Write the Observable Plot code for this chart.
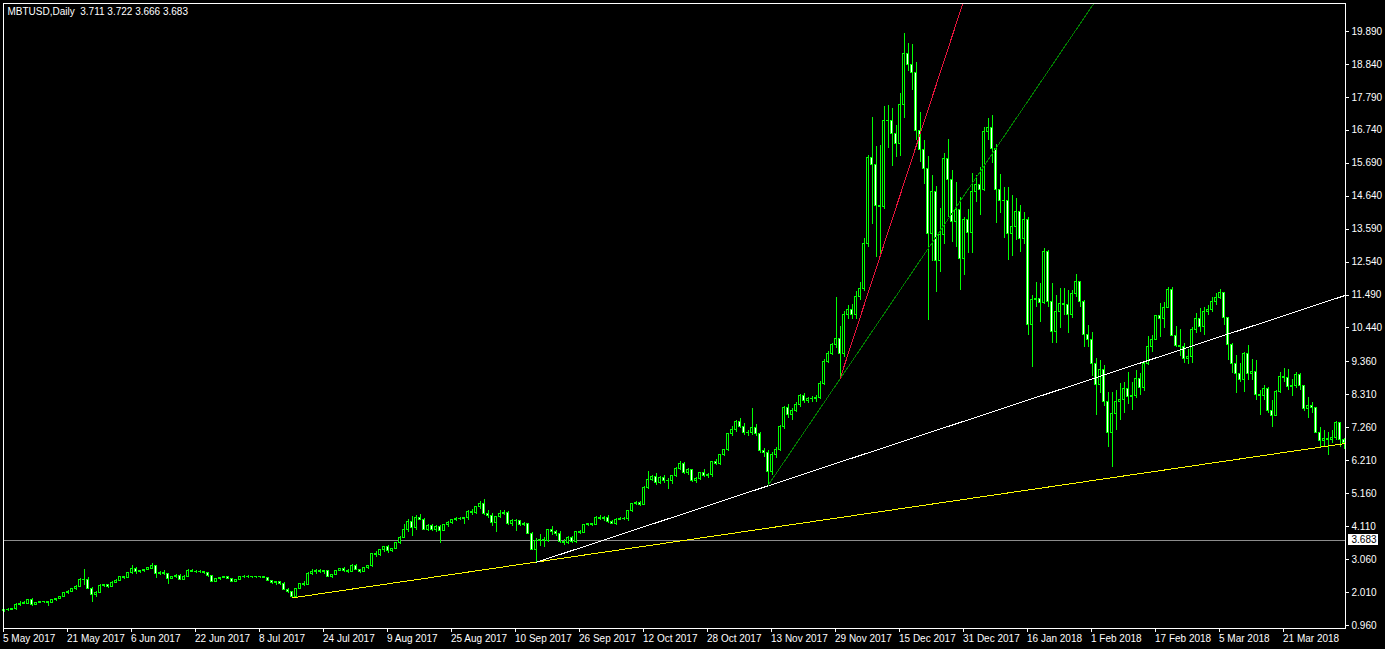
<!DOCTYPE html>
<html>
<head>
<meta charset="utf-8">
<script src="https://cdn.jsdelivr.net/npm/d3@7"></script>
<script src="https://cdn.jsdelivr.net/npm/@observablehq/plot@0.6"></script>
<style>
  html, body { margin: 0; padding: 0; background: #000; }
  #chart { width: 1385px; height: 649px; overflow: hidden; }
</style>
</head>
<body>
<div id="chart"></div>
<script>
// ---------------- DATA ----------------
const symbol = "MBTUSD";
const timeframe = "Daily";
const headerValues = [3.711, 3.722, 3.666, 3.683];
const bidPrice = 3.683;
const firstDate = "2017-05-05"; // one candle per calendar day from here

const opens = [
  1.42,1.44,1.46,1.47,1.62,1.66,1.66,1.78,1.62,1.68,
  1.72,1.70,1.68,1.76,1.81,1.86,1.99,2.02,2.12,2.20,
  2.42,2.40,2.13,1.92,2.01,2.23,2.24,2.19,2.32,2.39,
  2.49,2.47,2.62,2.77,2.66,2.69,2.73,2.77,2.84,2.61,
  2.64,2.60,2.45,2.50,2.55,2.42,2.52,2.71,2.68,2.66,
  2.67,2.62,2.53,2.36,2.43,2.48,2.50,2.45,2.36,2.40,
  2.52,2.50,2.51,2.50,2.49,2.51,2.48,2.37,2.30,2.33,
  2.27,2.10,2.03,1.87,2.13,2.29,2.25,2.61,2.65,2.70,
  2.66,2.69,2.52,2.57,2.70,2.75,2.70,2.68,2.87,2.73,
  2.68,2.80,2.84,3.24,3.20,3.35,3.45,3.33,3.40,3.58,
  3.75,3.99,4.25,4.07,4.39,4.33,4.01,4.13,3.99,4.11,
  3.97,4.15,4.22,4.31,4.36,4.35,4.37,4.59,4.55,4.73,
  4.84,4.52,4.45,4.22,4.41,4.52,4.56,4.20,4.28,4.30,
  4.15,4.18,3.88,3.37,3.65,3.68,3.66,3.99,3.93,3.86,
  3.62,3.58,3.75,3.62,3.93,3.92,4.15,4.18,4.17,4.39,
  4.35,4.40,4.25,4.20,4.33,4.36,4.35,4.60,4.83,4.86,
  4.80,5.35,5.60,5.69,5.50,5.66,5.58,5.56,5.71,5.95,
  6.09,5.82,5.90,5.56,5.62,5.81,5.71,5.74,6.16,6.10,
  6.38,6.54,7.05,7.20,7.44,7.30,7.09,7.10,7.25,7.05,
  6.52,6.45,5.85,6.38,6.56,7.28,7.90,7.68,7.81,8.00,
  8.26,8.11,8.18,8.17,8.22,8.66,9.37,9.62,9.90,10.10,
  9.62,10.84,11.02,10.84,11.44,11.69,13.12,15.87,15.62,14.34,
  14.30,17.05,17.02,16.63,16.31,17.53,19.18,18.83,18.57,16.73,
  16.12,15.51,13.44,14.77,12.59,13.40,15.83,15.14,13.81,14.19,
  12.65,13.89,13.46,14.77,15.01,14.85,16.70,16.80,16.15,14.85,
  14.50,14.48,13.42,13.65,14.13,13.28,13.87,10.52,11.32,11.37,
  11.23,12.86,11.26,10.31,10.94,11.19,11.17,10.84,11.53,11.90,
  11.26,10.22,10.06,9.30,8.61,9.09,8.08,7.10,7.71,8.08,
  8.15,8.50,8.24,8.27,8.82,8.53,9.28,9.85,10.06,10.81,
  10.73,11.08,11.66,10.20,9.86,9.83,9.46,9.53,10.36,10.73,
  10.47,10.94,11.02,11.26,11.40,11.55,10.76,9.90,9.30,8.96,
  8.79,9.60,8.98,9.03,8.29,8.26,8.50,7.81,7.65,8.40,
  8.87,8.85,8.55,8.58,8.93,8.58,7.86,7.97,7.90,7.10,
  6.83,6.91,6.86,6.92,7.41,6.86
];
const highs = [
  1.48,1.49,1.48,1.66,1.74,1.72,1.80,1.81,1.70,1.74,
  1.74,1.72,1.78,1.83,1.88,2.00,2.06,2.14,2.23,2.45,
  2.73,2.48,2.16,2.04,2.26,2.27,2.27,2.35,2.42,2.52,
  2.52,2.64,2.87,2.80,2.72,2.76,2.80,2.93,2.88,2.68,
  2.70,2.62,2.53,2.58,2.58,2.55,2.74,2.75,2.72,2.70,
  2.69,2.64,2.55,2.46,2.50,2.53,2.52,2.47,2.44,2.53,
  2.55,2.54,2.53,2.53,2.53,2.53,2.50,2.40,2.36,2.36,
  2.32,2.15,2.05,2.15,2.30,2.36,2.64,2.73,2.74,2.73,
  2.72,2.72,2.60,2.72,2.78,2.80,2.74,2.90,2.90,2.76,
  2.82,2.88,3.26,3.32,3.38,3.48,3.50,3.42,3.60,3.78,
  4.18,4.35,4.43,4.45,4.50,4.38,4.18,4.17,4.14,4.14,
  4.18,4.26,4.33,4.40,4.39,4.40,4.62,4.65,4.76,4.90,
  4.96,4.62,4.52,4.44,4.62,4.62,4.60,4.33,4.34,4.32,
  4.25,4.22,3.92,3.72,3.86,3.75,4.02,4.11,3.98,3.97,
  3.70,3.80,3.80,3.96,4.00,4.17,4.22,4.22,4.42,4.45,
  4.44,4.47,4.30,4.36,4.40,4.41,4.63,4.86,4.90,4.90,
  5.40,5.88,5.74,5.80,5.70,5.74,5.63,5.74,5.98,6.17,
  6.14,5.95,5.94,5.66,5.85,5.92,5.80,6.20,6.25,6.42,
  6.58,7.08,7.30,7.50,7.55,7.40,7.18,7.87,7.35,7.12,
  6.60,6.55,6.48,6.62,7.32,7.95,8.00,7.88,8.08,8.32,
  8.36,8.22,8.25,8.30,8.72,9.42,9.70,9.95,11.40,10.50,
  10.95,11.15,11.20,11.60,11.90,13.30,15.95,17.16,16.22,16.26,
  17.50,17.53,17.45,16.90,17.90,19.82,19.50,19.46,18.90,17.30,
  16.40,15.90,15.30,14.96,14.25,16.00,16.44,15.46,15.09,14.60,
  13.95,14.20,15.35,15.30,15.55,16.84,17.10,17.21,16.28,15.33,
  14.93,14.93,14.66,14.56,14.34,14.13,13.95,11.47,11.90,11.85,
  12.96,12.91,11.85,11.48,11.69,11.69,11.64,11.64,12.15,11.93,
  11.30,10.52,10.31,9.46,9.40,9.25,8.40,8.40,8.45,8.66,
  8.71,9.03,8.71,9.09,8.98,9.35,10.17,10.20,10.84,11.21,
  11.26,11.74,11.72,10.49,10.38,9.93,9.75,10.47,10.89,11.05,
  11.08,11.16,11.42,11.53,11.66,11.58,10.79,9.93,9.56,9.30,
  9.67,9.88,9.43,9.40,8.45,8.61,8.53,8.13,8.45,9.03,
  9.14,9.11,8.79,9.03,8.98,8.61,8.24,8.08,7.92,7.28,
  7.17,7.12,7.17,7.47,7.44,6.92
];
const lows = [
  1.36,1.42,1.43,1.45,1.58,1.63,1.64,1.58,1.59,1.66,
  1.66,1.58,1.67,1.74,1.80,1.85,1.96,2.00,2.08,2.18,
  2.22,2.10,1.70,1.85,1.98,2.18,2.14,2.17,2.30,2.37,
  2.44,2.46,2.60,2.60,2.62,2.66,2.70,2.75,2.45,2.56,
  2.56,2.27,2.42,2.47,2.38,2.40,2.50,2.64,2.62,2.62,
  2.58,2.50,2.32,2.32,2.40,2.45,2.42,2.33,2.32,2.38,
  2.47,2.47,2.47,2.46,2.46,2.45,2.35,2.27,2.25,2.22,
  2.08,1.98,1.84,1.85,2.10,2.20,2.22,2.55,2.58,2.62,
  2.58,2.50,2.47,2.55,2.67,2.64,2.62,2.66,2.70,2.63,
  2.64,2.76,2.80,3.14,3.17,3.30,3.26,3.28,3.38,3.55,
  3.72,3.93,3.80,4.00,4.30,3.98,3.95,3.96,3.92,3.58,
  3.95,4.07,4.17,4.27,4.30,4.18,4.31,4.48,4.50,4.65,
  4.45,4.38,4.10,3.93,4.38,4.48,4.15,4.12,3.97,4.10,
  4.10,3.85,3.35,2.97,3.48,3.46,3.62,3.82,3.80,3.58,
  3.52,3.55,3.58,3.58,3.85,3.88,4.12,4.13,4.14,4.30,
  4.28,4.22,4.17,4.15,4.30,4.31,4.28,4.55,4.78,4.76,
  4.78,5.28,5.55,5.42,5.45,5.50,5.28,5.44,5.66,5.90,
  5.78,5.74,5.52,5.50,5.58,5.66,5.64,5.68,6.05,6.05,
  6.33,6.52,6.98,7.10,7.25,7.00,6.98,7.00,6.98,6.45,
  6.30,5.42,5.75,6.28,6.50,7.20,7.55,7.50,7.74,7.92,
  8.02,8.02,8.05,8.06,8.15,8.60,9.30,9.55,9.80,8.82,
  9.50,10.70,10.70,10.70,11.30,11.60,13.00,13.74,12.70,12.75,
  14.20,16.15,15.60,15.88,15.90,17.10,18.60,18.00,16.40,15.70,
  15.00,10.68,12.57,11.58,12.20,13.10,13.97,13.18,13.02,11.64,
  12.11,12.80,12.80,14.45,14.03,14.80,16.42,15.67,13.76,14.08,
  13.28,12.59,12.72,13.23,12.83,13.10,10.20,9.19,11.10,10.63,
  11.20,11.10,9.96,9.96,10.41,10.84,10.28,10.73,11.42,11.08,
  9.83,9.83,8.90,7.65,8.36,7.94,6.64,6.01,7.17,7.49,
  7.70,8.00,7.81,8.18,8.29,8.43,9.25,9.67,10.04,10.15,
  10.41,11.05,10.17,9.83,9.53,9.30,9.28,9.32,10.26,10.31,
  10.20,10.84,10.94,11.16,11.34,10.52,9.40,8.99,8.34,8.71,
  8.40,8.77,8.77,8.13,7.65,8.13,7.70,7.28,7.62,8.36,
  8.71,8.45,8.26,8.50,8.45,7.79,7.55,7.71,7.07,6.59,
  6.64,6.38,6.75,6.86,6.64,6.56
];
const closes = [
  1.44,1.46,1.47,1.62,1.66,1.67,1.78,1.60,1.68,1.72,
  1.70,1.68,1.76,1.81,1.86,1.99,2.02,2.12,2.20,2.42,
  2.40,2.13,1.92,2.01,2.23,2.24,2.19,2.32,2.39,2.49,
  2.47,2.62,2.77,2.66,2.69,2.73,2.78,2.84,2.61,2.64,
  2.60,2.45,2.50,2.55,2.42,2.52,2.71,2.68,2.66,2.67,
  2.62,2.53,2.36,2.43,2.48,2.50,2.45,2.36,2.40,2.52,
  2.50,2.51,2.50,2.49,2.51,2.48,2.37,2.30,2.33,2.27,
  2.10,2.03,1.87,2.13,2.29,2.25,2.61,2.65,2.70,2.66,
  2.69,2.52,2.57,2.70,2.75,2.70,2.68,2.87,2.73,2.68,
  2.80,2.84,3.24,3.20,3.35,3.45,3.33,3.40,3.58,3.75,
  3.99,4.25,4.07,4.39,4.33,4.01,4.13,3.99,4.11,3.97,
  4.15,4.22,4.31,4.36,4.35,4.37,4.59,4.55,4.73,4.84,
  4.52,4.45,4.22,4.41,4.52,4.56,4.20,4.28,4.30,4.15,
  4.18,3.88,3.37,3.65,3.68,3.66,3.99,3.93,3.86,3.62,
  3.58,3.75,3.62,3.93,3.92,4.15,4.18,4.17,4.39,4.35,
  4.40,4.25,4.20,4.33,4.36,4.35,4.60,4.83,4.86,4.80,
  5.35,5.60,5.69,5.50,5.66,5.58,5.56,5.71,5.95,6.09,
  5.82,5.90,5.56,5.62,5.81,5.71,5.74,6.16,6.10,6.38,
  6.54,7.05,7.20,7.44,7.30,7.09,7.10,7.25,7.05,6.52,
  6.45,5.85,6.38,6.56,7.28,7.90,7.68,7.81,8.00,8.26,
  8.11,8.18,8.17,8.22,8.66,9.37,9.62,9.90,10.10,9.62,
  10.84,11.02,10.84,11.44,11.69,13.12,15.87,15.62,14.34,14.30,
  17.05,17.02,16.63,16.31,17.53,19.18,18.83,18.57,16.73,16.12,
  15.51,13.44,14.77,12.59,13.40,15.83,15.14,13.81,14.19,12.65,
  13.89,13.46,14.77,15.01,14.85,16.70,16.80,16.15,14.85,14.50,
  14.48,13.42,13.65,14.13,13.28,13.87,10.52,11.32,11.37,11.23,
  12.86,11.26,10.31,10.94,11.19,11.17,10.84,11.53,11.90,11.26,
  10.22,10.06,9.30,8.61,9.09,8.08,7.10,7.71,8.08,8.15,
  8.50,8.24,8.27,8.82,8.53,9.28,9.85,10.06,10.81,10.73,
  11.08,11.66,10.20,9.86,9.83,9.46,9.53,10.36,10.73,10.47,
  10.94,11.02,11.26,11.40,11.55,10.76,9.90,9.30,8.96,8.79,
  9.60,8.98,9.03,8.29,8.26,8.50,7.81,7.65,8.40,8.87,
  8.85,8.55,8.58,8.93,8.58,7.86,7.97,7.90,7.10,6.83,
  6.91,6.86,6.92,7.41,6.86,6.76
];

// trend lines drawn on the chart (start / end in date + price)
const trendStartDates  = ["2017-07-16", "2017-09-15", "2017-11-12", "2017-11-30"];
const trendStartPrices = [1.84, 2.97, 5.42, 8.82];
const trendEndDates    = ["2018-04-05T09:00Z", "2018-04-05T09:00Z", "2018-02-01T11:00Z", "2017-12-30T17:00Z"];
const trendEndPrices   = [6.76, 11.48, 20.78, 20.78];

const priceTicks = [19.890, 18.840, 17.790, 16.740, 15.690, 14.640, 13.590, 12.540, 11.490,
                    10.440, 9.360, 8.310, 7.260, 6.210, 5.160, 4.110, 3.060, 2.010, 0.960];
const dateTicks = ["2017-05-05","2017-05-21","2017-06-06","2017-06-22","2017-07-08","2017-07-24",
                   "2017-08-09","2017-08-25","2017-09-10","2017-09-26","2017-10-12","2017-10-28",
                   "2017-11-13","2017-11-29","2017-12-15","2017-12-31","2018-01-16","2018-02-01",
                   "2018-02-17","2018-03-05","2018-03-21"];
const priceDomain = [0.864, 20.78];

// ---------------- CHART ----------------
const DAY = 864e5;
const t0 = Date.parse(firstDate + "T00:00:00Z");
const candles = closes.map((c, i) => ({
  date: new Date(t0 + i * DAY), o: opens[i], h: highs[i], l: lows[i], c
}));
const n = candles.length;
const xDomain = [new Date(t0 - 0.125 * DAY), new Date(t0 + (n - 1 + 0.375) * DAY)];

const trendColors = ["#ffff00", "#ffffff", "#008000", "#e8143c"];
const trends = trendStartDates.map((d, i) => ({
  x1: new Date(d), y1: trendStartPrices[i],
  x2: new Date(trendEndDates[i]), y2: trendEndPrices[i],
  color: trendColors[i]
}));

const LIME = "#00ff00";
const fmtDate = d3.utcFormat("%-d %b %Y");
const titleText = `${symbol},${timeframe}\u00a0\u00a0${headerValues.map(v => v.toFixed(3)).join(" ")}`;
const bidText = bidPrice.toFixed(3);

const chart = Plot.plot({
  width: 1385,
  height: 649,
  marginLeft: 3,
  marginRight: 40,
  marginTop: 3,
  marginBottom: 21,
  style: {
    background: "#000",
    color: "#fff",
    fontFamily: "'Liberation Sans', Arial, sans-serif",
    fontSize: "10px"
  },
  x: { type: "utc", domain: xDomain, axis: null },
  y: { domain: priceDomain, axis: null },
  marks: [
    Plot.ruleY([bidPrice], { stroke: "#8c8c8c" }),
    Plot.ruleX(candles, { x: "date", y1: "l", y2: "h", stroke: LIME }),
    Plot.rect(candles, {
      x1: d => new Date(+d.date - 0.25 * DAY),
      x2: d => new Date(+d.date + 0.25 * DAY),
      y1: "o", y2: "c",
      fill: d => (d.c < d.o ? "#ffffff" : "#000000"),
      stroke: LIME
    }),
    Plot.link(candles.filter(d => Math.abs(d.o - d.c) < 0.005), {
      x1: d => new Date(+d.date - 0.25 * DAY),
      x2: d => new Date(+d.date + 0.25 * DAY),
      y1: "c", y2: "c", stroke: LIME
    }),
    Plot.link(trends, { x1: "x1", y1: "y1", x2: "x2", y2: "y2", stroke: d => d.color }),
    Plot.frame({ stroke: "#fff" }),
    Plot.axisX(dateTicks.map(d => new Date(d + "T00:00:00Z")), {
      anchor: "bottom", tickSize: 4, tickPadding: 2,
      tickFormat: fmtDate, textAnchor: "start", dx: -1
    }),
    Plot.axisY(priceTicks, {
      anchor: "right", tickSize: 3, tickPadding: 3,
      tickFormat: d => d.toFixed(3)
    }),
    Plot.text([bidPrice], {
      y: d => d, frameAnchor: "right", dx: 6, textAnchor: "start",
      text: () => bidText, fill: "#000000"
    }),
    Plot.text([titleText], {
      frameAnchor: "top-left", dx: 4, dy: 4, textAnchor: "start", lineAnchor: "top",
      text: d => d, fill: "#fff"
    })
  ]
});

chart.setAttribute("shape-rendering", "crispEdges");
document.getElementById("chart").appendChild(chart);

// white box behind the bid price label
for (const t of chart.querySelectorAll("text")) {
  if (t.textContent.trim() !== bidText) continue;
  const bb = t.getBBox();
  const r = document.createElementNS("http://www.w3.org/2000/svg", "rect");
  r.setAttribute("x", bb.x - 4);
  r.setAttribute("y", bb.y);
  r.setAttribute("width", bb.width + 5);
  r.setAttribute("height", bb.height);
  r.setAttribute("fill", "#ffffff");
  const tr = t.getAttribute("transform");
  if (tr) r.setAttribute("transform", tr);
  t.parentNode.insertBefore(r, t);
  t.setAttribute("fill", "#000000");
}
</script>
</body>
</html>
